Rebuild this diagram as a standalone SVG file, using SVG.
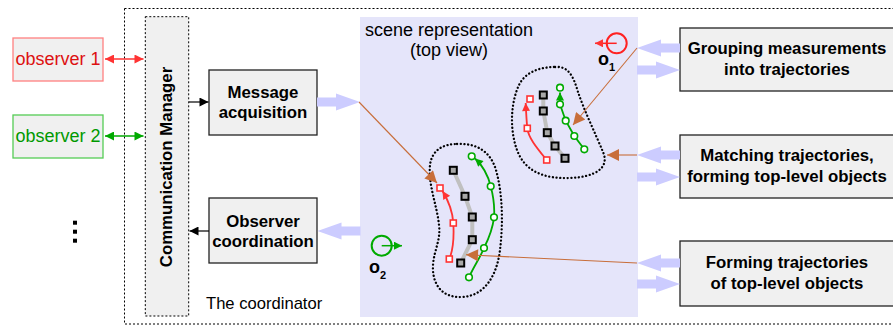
<svg xmlns="http://www.w3.org/2000/svg" width="893" height="325" viewBox="0 0 893 325">
  <style>
    .box { fill: #f0f0f0; stroke: #222; stroke-width: 1.3; }
    .dotted { fill: none; stroke: #000; stroke-width: 1; stroke-dasharray: 2 2; }
    .bold { font-family: "Liberation Sans", Arial, sans-serif; font-weight: bold; font-size: 16.8px; fill: #000; text-anchor: middle; }
    .plain { font-family: "Liberation Sans", Arial, sans-serif; font-size: 16.6px; fill: #000; }
    .big { font-size: 18px; }
    .label { font-family: "Liberation Sans", Arial, sans-serif; font-weight: bold; font-size: 18px; fill: #000; }
    .fat { fill: #ccccff; }
    .orange { stroke: #c86e3a; stroke-width: 1.1; fill: none; marker-end: url(#ahOrange); }
    .blob { fill: none; stroke: #000; stroke-width: 2.3; stroke-dasharray: 0.1 3.6; stroke-linecap: round; }
    .meas { fill: #a8a8a8; stroke: #000; stroke-width: 2; }
    .ghost { fill: none; stroke: #c0c0c0; stroke-width: 4; stroke-linejoin: round; }
    .redTrk { fill: none; stroke: #ff3333; stroke-width: 1.8; }
    .greenTrk { fill: none; stroke: #00aa00; stroke-width: 1.8; }
    .redPt { fill: #ffffff; stroke: #ff3333; stroke-width: 1.6; }
    .greenPt { fill: #ffffff; stroke: #00aa00; stroke-width: 1.6; }
  </style>
  <defs>
    <marker id="ahOrange" viewBox="0 0 10 10" refX="10" refY="5" markerWidth="15" markerHeight="12" markerUnits="userSpaceOnUse" orient="auto">
      <path d="M0,0 L10,5 L0,10 Z" fill="#c86e3a"/>
    </marker>
    <marker id="ahBlack" viewBox="0 0 10 10" refX="10" refY="5" markerWidth="12" markerHeight="9" markerUnits="userSpaceOnUse" orient="auto-start-reverse">
      <path d="M0,0 L10,5 L0,10 Z" fill="#000"/>
    </marker>
    <marker id="ahRed" viewBox="0 0 10 10" refX="10" refY="5" markerWidth="12" markerHeight="9" markerUnits="userSpaceOnUse" orient="auto-start-reverse">
      <path d="M0,0 L10,5 L0,10 Z" fill="#ff3333"/>
    </marker>
    <marker id="ahGreen" viewBox="0 0 10 10" refX="10" refY="5" markerWidth="12" markerHeight="9" markerUnits="userSpaceOnUse" orient="auto-start-reverse">
      <path d="M0,0 L10,5 L0,10 Z" fill="#00aa00"/>
    </marker>
    <marker id="ahRedS" viewBox="0 0 10 10" refX="10" refY="5" markerWidth="10" markerHeight="8" markerUnits="userSpaceOnUse" orient="auto">
      <path d="M0,0 L10,5 L0,10 Z" fill="#ff3333"/>
    </marker>
    <marker id="ahGreenS" viewBox="0 0 10 10" refX="10" refY="5" markerWidth="10" markerHeight="8" markerUnits="userSpaceOnUse" orient="auto">
      <path d="M0,0 L10,5 L0,10 Z" fill="#00aa00"/>
    </marker>
    <!-- wide data-flow arrows, tip at origin -->
    <path id="fatLeft" d="M0,0 L24,-8.5 L24,-4.5 L43,-4.5 L43,4.5 L24,4.5 L24,8.5 Z"/>
    <path id="fatRight" d="M0,0 L-24,-8.5 L-24,-4.5 L-43,-4.5 L-43,4.5 L-24,4.5 L-24,8.5 Z"/>
    <rect id="sq" x="-3.5" y="-3.5" width="7" height="7"/>
    <rect id="rsq" x="-3" y="-3" width="6" height="6"/>
  </defs>

  <rect width="893" height="325" fill="#ffffff"/>

  <!-- coordinator boundary -->
  <g id="coordinator">
    <path class="dotted" d="M124.5,8.5 H900 M124.5,8.5 V324 H900"/>
    <text class="plain" x="206" y="309">The coordinator</text>
  </g>

  <!-- scene -->
  <g id="scene">
    <rect x="360" y="17" width="278" height="300" fill="#e5e5fa"/>
    <text class="plain big" x="449" y="36" text-anchor="middle">scene representation</text>
    <text class="plain big" x="449" y="56" text-anchor="middle">(top view)</text>
  </g>

  <g id="observer-o1">
    <circle cx="616.7" cy="43.3" r="10" fill="none" stroke="#ff2222" stroke-width="2"/>
    <line x1="616.7" y1="43.3" x2="595" y2="43.3" stroke="#ff2222" stroke-width="1.5" marker-end="url(#ahRedS)"/>
    <text class="label" x="598" y="65">o<tspan font-size="11" dy="6">1</tspan></text>
  </g>

  <g id="observer-o2">
    <circle cx="381.7" cy="245.7" r="10" fill="none" stroke="#00aa00" stroke-width="2"/>
    <line x1="381.7" y1="245.7" x2="402" y2="245.7" stroke="#00aa00" stroke-width="1.5" marker-end="url(#ahGreenS)"/>
    <text class="label" x="369" y="273">o<tspan font-size="11" dy="6">2</tspan></text>
  </g>

  <!-- object group 1 -->
  <g id="object-1">
    <path class="blob" d="M555,67 C568,66 573,75 578,92 C584,110 596,135 603,152 C610,168 595,177 570,178 C545,179 525,172 517,150 C509,128 511,100 520,83 C528,70 543,67 555,67 Z"/>
    <polyline class="ghost" points="543.3,95 543.3,111 547.3,132.7 555,146 565,158.3"/>
    <path class="redTrk" d="M546.7,160 C537,148 528.5,138 527.3,128.3 C526.3,118 526,110 525.7,103" marker-end="url(#ahRedS)"/>
    <polyline class="greenTrk" points="584.3,149.3 574.3,136 565.7,120.7 560,104.3 560,92.5" marker-end="url(#ahGreenS)"/>
    <use href="#rsq" class="redPt" x="530" y="99"/>
    <use href="#rsq" class="redPt" x="527.3" y="128.3"/>
    <use href="#rsq" class="redPt" x="546.7" y="160"/>
    <use href="#sq" class="meas" x="543.3" y="95"/>
    <use href="#sq" class="meas" x="543.3" y="111"/>
    <use href="#sq" class="meas" x="547.3" y="132.7"/>
    <use href="#sq" class="meas" x="555" y="146"/>
    <use href="#sq" class="meas" x="565" y="158.3"/>
    <circle class="greenPt" cx="560" cy="87.7" r="3.3"/>
    <circle class="greenPt" cx="560" cy="104.3" r="3.3"/>
    <circle class="greenPt" cx="565.7" cy="120.7" r="3.3"/>
    <circle class="greenPt" cx="574.3" cy="136" r="3.3"/>
    <circle class="greenPt" cx="584.3" cy="149.3" r="3.3"/>
  </g>

  <!-- object group 2 -->
  <g id="object-2">
    <path class="blob" d="M457,144 C475,143 490,150 496,170 C503,195 503,225 500,250 C497,275 485,296 462,297 C440,298 432,282 433,265 C434,250 441,240 439,225 C437,205 428,185 430,165 C432,150 443,144 457,144 Z"/>
    <polyline class="ghost" points="453.3,170.3 465,196.3 472.3,217 472.3,239.7 460.7,263"/>
    <path class="redTrk" d="M449.3,259 C454,248 454,235 453.3,223 C452.5,210 448,200 442.5,191" marker-end="url(#ahRedS)"/>
    <path class="greenTrk" d="M469,277.3 C474,266 480,258 484,248 C490,236 493,226 494,217.3 C495,205 493,195 490.7,186.3 C488,175 482,165 475,158.5" marker-end="url(#ahGreenS)"/>
    <use href="#rsq" class="redPt" x="440" y="188"/>
    <use href="#rsq" class="redPt" x="453.3" y="223"/>
    <use href="#rsq" class="redPt" x="449.3" y="259"/>
    <use href="#sq" class="meas" x="453.3" y="170.3"/>
    <use href="#sq" class="meas" x="465" y="196.3"/>
    <use href="#sq" class="meas" x="472.3" y="217"/>
    <use href="#sq" class="meas" x="472.3" y="239.7"/>
    <use href="#sq" class="meas" x="460.7" y="263"/>
    <circle class="greenPt" cx="471.7" cy="156.3" r="3.3"/>
    <circle class="greenPt" cx="490.7" cy="186.3" r="3.3"/>
    <circle class="greenPt" cx="494" cy="217.3" r="3.3"/>
    <circle class="greenPt" cx="484" cy="248" r="3.3"/>
    <circle class="greenPt" cx="469" cy="277.3" r="3.3"/>
  </g>

  <!-- nodes -->
  <g id="observer1">
    <rect x="13" y="38" width="90" height="43" fill="#f0f0f0" stroke="#ff8080" stroke-width="1.3"/>
    <text class="plain big" x="58" y="65" text-anchor="middle" style="fill:#dd1111">observer 1</text>
  </g>
  <g id="observer2">
    <rect x="13" y="115" width="90" height="43" fill="#f0f0f0" stroke="#55cc55" stroke-width="1.3"/>
    <text class="plain big" x="58" y="142" text-anchor="middle" style="fill:#009900">observer 2</text>
  </g>
  <g id="more-observers">
    <rect x="73" y="220.7" width="4" height="4" fill="#000"/>
    <rect x="73" y="229.7" width="4" height="4" fill="#000"/>
    <rect x="73" y="238.7" width="4" height="4" fill="#000"/>
  </g>

  <g id="comm-manager">
    <rect x="145.3" y="16.7" width="43.4" height="299.3" fill="#f0f0f0" stroke="#000" stroke-width="1" stroke-dasharray="2 2"/>
    <text class="bold" transform="translate(171.5,167) rotate(-90)">Communication Manager</text>
  </g>

  <g id="message-acquisition">
    <rect class="box" x="209" y="70" width="108" height="65"/>
    <text class="bold" x="263" y="97.5">Message</text>
    <text class="bold" x="263" y="118">acquisition</text>
  </g>

  <g id="observer-coordination">
    <rect class="box" x="209" y="198" width="108" height="65"/>
    <text class="bold" x="263" y="226.5">Observer</text>
    <text class="bold" x="263" y="246.5">coordination</text>
  </g>

  <g id="grouping">
    <rect class="box" x="680" y="28" width="230" height="63"/>
    <text class="bold" x="787" y="54">Grouping measurements</text>
    <text class="bold" x="787" y="75">into trajectories</text>
  </g>

  <g id="matching">
    <rect class="box" x="680" y="135" width="230" height="63"/>
    <text class="bold" x="787" y="161">Matching trajectories,</text>
    <text class="bold" x="787" y="182">forming top-level objects</text>
  </g>

  <g id="forming">
    <rect class="box" x="680" y="241" width="230" height="65"/>
    <text class="bold" x="787" y="268">Forming trajectories</text>
    <text class="bold" x="787" y="289">of top-level objects</text>
  </g>

  <!-- connectors -->
  <g id="connectors">
    <line x1="105" y1="59" x2="143.5" y2="59" stroke="#ff3333" stroke-width="1.3" marker-start="url(#ahRed)" marker-end="url(#ahRed)"/>
    <line x1="105" y1="136" x2="143.5" y2="136" stroke="#00aa00" stroke-width="1.3" marker-start="url(#ahGreen)" marker-end="url(#ahGreen)"/>
    <line x1="189" y1="102" x2="208.5" y2="102" stroke="#000" stroke-width="1.2" marker-end="url(#ahBlack)"/>
    <line x1="209" y1="231" x2="189.5" y2="231" stroke="#000" stroke-width="1.2" marker-end="url(#ahBlack)"/>

    <use href="#fatRight" class="fat" x="360" y="102"/>
    <use href="#fatLeft" class="fat" x="317.5" y="231"/>
    <use href="#fatLeft" class="fat" x="637" y="48"/>
    <use href="#fatRight" class="fat" x="680" y="70"/>
    <use href="#fatLeft" class="fat" x="637" y="155"/>
    <use href="#fatRight" class="fat" x="680" y="177"/>
    <use href="#fatLeft" class="fat" x="637" y="263"/>
    <use href="#fatRight" class="fat" x="680" y="284"/>

    <line class="orange" x1="637" y1="48" x2="573" y2="125"/>
    <line class="orange" x1="637" y1="155" x2="607" y2="155"/>
    <line class="orange" x1="637" y1="263" x2="466" y2="254.7"/>
    <line class="orange" x1="359" y1="102" x2="437" y2="183"/>
  </g>
</svg>
